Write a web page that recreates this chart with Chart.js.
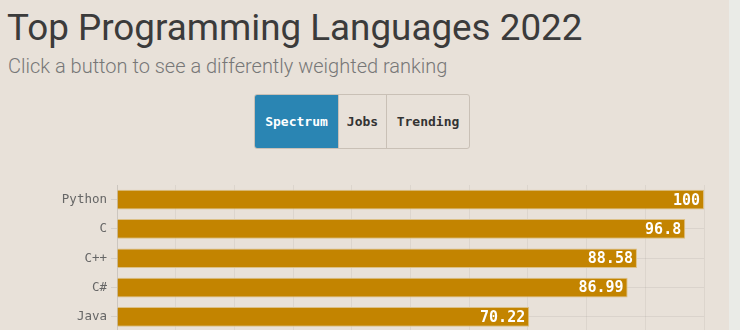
<!DOCTYPE html>
<html>
<head>
<meta charset="utf-8">
<script src="https://cdn.jsdelivr.net/npm/chart.js@4/dist/chart.umd.min.js"></script>
<style>
  html, body { margin: 0; padding: 0; background: #eaebe7; overflow: hidden; }
  #page { position: relative; width: 729px; height: 330px; background: #e8e1d9; overflow: hidden; }
  h1 { position: absolute; left: 7px; top: 6px; margin: 0; font: 400 36.8px Roboto, sans-serif; color: #3b3b3b; white-space: nowrap; line-height: 44px; }
  #sub { position: absolute; left: 8px; top: 53px; margin: 0; font: 300 20px Roboto, sans-serif; color: #777; white-space: nowrap; line-height: 26px; }
  #btns { position: absolute; left: 254px; top: 94px; height: 55px; display: flex; border: 1px solid #c9c0b6; border-radius: 3px; overflow: hidden; box-sizing: border-box; }
  .b { height: 100%; display: flex; align-items: center; justify-content: center; font: bold 13px "DejaVu Sans Mono", monospace; color: #333; box-sizing: border-box; }
  .b + .b { border-left: 1px solid #c9c0b6; }
  .b.on { background: #2a85b3; color: #fff; }
  #wrap { position: absolute; left: 0; top: 160px; width: 729px; height: 183px; }
</style>
</head>
<body>
<div id="page">
  <h1>Top Programming Languages 2022</h1>
  <div id="sub">Click a button to see a differently weighted ranking</div>
  <div id="btns">
    <div class="b on" style="width:83px">Spectrum</div>
    <div class="b" style="width:48px">Jobs</div>
    <div class="b" style="width:83px">Trending</div>
  </div>
  <div id="wrap"><canvas id="c"></canvas></div>
</div>
<script>
const languages = ["Python", "C", "C++", "C#", "Java"];
const spectrumScores = [100, 96.8, 88.58, 86.99, 70.22];
const xTicks = [0, 10, 20, 30, 40, 50, 60, 70, 80, 90, 100];

const valueLabels = {
  id: 'valueLabels',
  afterDatasetsDraw(chart) {
    const ctx = chart.ctx;
    const meta = chart.getDatasetMeta(0);
    ctx.save();
    ctx.font = 'bold 15px "DejaVu Sans Mono", monospace';
    ctx.fillStyle = '#ffffff';
    ctx.textAlign = 'right';
    ctx.textBaseline = 'middle';
    meta.data.forEach((bar, i) => {
      ctx.fillText(String(spectrumScores[i]), bar.x - 4, bar.y + 1);
    });
    ctx.restore();
  }
};

new Chart(document.getElementById('c'), {
  type: 'bar',
  data: {
    labels: languages,
    datasets: [{
      data: spectrumScores,
      backgroundColor: '#c38400',
      borderColor: '#dcc086',
      borderWidth: 1,
      barPercentage: 0.7,
      categoryPercentage: 0.96
    }]
  },
  options: {
    indexAxis: 'y',
    responsive: true,
    maintainAspectRatio: false,
    animation: false,
    layout: { padding: { top: 25, right: 25, bottom: 0, left: 0 } },
    plugins: { legend: { display: false }, tooltip: { enabled: false } },
    scales: {
      x: {
        min: 0, max: 100,
        afterBuildTicks(axis) { axis.ticks = xTicks.map(v => ({ value: v })); },
        ticks: { display: false },
        grid: { color: 'rgba(0,0,0,0.05)', drawTicks: false },
        border: { display: false }
      },
      y: {
        afterFit(axis) { axis.width = 117; },
        grid: { offset: false, color: 'rgba(0,0,0,0.06)', tickLength: 6, tickColor: 'rgba(0,0,0,0.08)' },
        border: { display: true, color: 'rgba(0,0,0,0.07)' },
        ticks: { color: '#666', padding: 4, font: { family: '"DejaVu Sans Mono", monospace', size: 12.5 } }
      }
    }
  },
  plugins: [valueLabels]
});
</script>
</body>
</html>
